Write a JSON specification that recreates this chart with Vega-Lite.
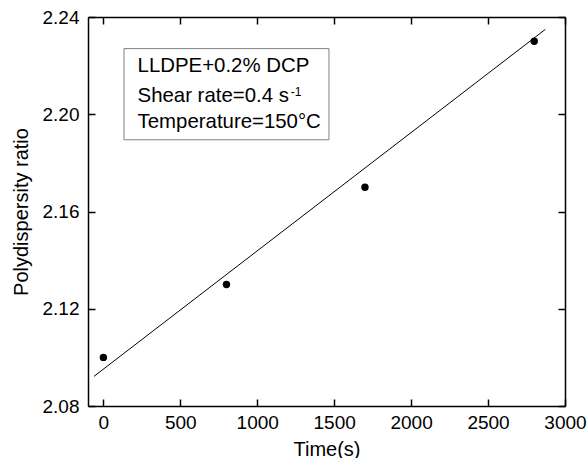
{
  "$schema": "https://vega.github.io/schema/vega-lite/v6.json",
  "width": 477,
  "height": 389,
  "autosize": {"type": "none"},
  "padding": {"left": 88, "top": 17, "right": 23, "bottom": 52},
  "background": "white",
  "config": {
    "view": {"stroke": null},
    "font": "Liberation Sans",
    "axis": {
      "grid": false,
      "domainColor": "black",
      "domainWidth": 1.5,
      "tickColor": "black",
      "tickWidth": 1.5,
      "tickSize": -7,
      "labelFont": "Liberation Sans",
      "labelFontSize": 19,
      "labelColor": "black",
      "titleFont": "Liberation Sans",
      "titleFontSize": 20,
      "titleFontWeight": "normal",
      "titleColor": "black"
    }
  },
  "datasets": {
    "points": [
      {"time": 0, "pdi": 2.10},
      {"time": 800, "pdi": 2.13},
      {"time": 1700, "pdi": 2.17},
      {"time": 2800, "pdi": 2.23}
    ],
    "fit": [
      {"time": -61, "pdi": 2.0922},
      {"time": 2872, "pdi": 2.2349}
    ],
    "note": [{"label": "annotation"}]
  },
  "resolve": {"axis": {"x": "independent", "y": "independent"}},
  "layer": [
    {
      "data": {"name": "points"},
      "mark": {"type": "point", "filled": true, "color": "black", "opacity": 1, "size": 55, "shape": "circle"},
      "encoding": {
        "x": {
          "field": "time", "type": "quantitative",
          "scale": {"domain": [-100, 3000], "nice": false, "zero": false},
          "axis": {"orient": "bottom", "values": [0, 500, 1000, 1500, 2000, 2500, 3000], "format": "d", "title": "Time(s)", "labelPadding": 14, "titleY": 49, "titleBaseline": "alphabetic", "labelFlush": false, "labelOverlap": false}
        },
        "y": {
          "field": "pdi", "type": "quantitative",
          "scale": {"domain": [2.08, 2.24], "nice": false, "zero": false},
          "axis": {"orient": "left", "values": [2.08, 2.12, 2.16, 2.20, 2.24], "format": ".2f", "title": "Polydispersity ratio", "labelPadding": 16, "titleX": -67, "titleBaseline": "middle", "labelFlush": false, "labelOverlap": false}
        }
      }
    },
    {
      "data": {"name": "fit"},
      "mark": {"type": "line", "color": "black", "strokeWidth": 1},
      "encoding": {
        "x": {
          "field": "time", "type": "quantitative",
          "axis": {"orient": "top", "values": [0, 500, 1000, 1500, 2000, 2500, 3000], "labels": false, "title": null}
        },
        "y": {
          "field": "pdi", "type": "quantitative",
          "axis": {"orient": "right", "values": [2.08, 2.12, 2.16, 2.20, 2.24], "labels": false, "title": null}
        }
      }
    },
    {
      "data": {"name": "note"},
      "mark": {"type": "rect", "fill": null, "stroke": "#808080", "strokeWidth": 1},
      "encoding": {
        "x": {"datum": 134, "type": "quantitative", "axis": null},
        "x2": {"datum": 1466},
        "y": {"datum": 2.227, "type": "quantitative", "axis": null},
        "y2": {"datum": 2.1895}
      }
    },
    {
      "data": {"name": "note"},
      "mark": {"type": "text", "align": "left", "baseline": "alphabetic", "fontSize": 20.4, "color": "black", "font": "Liberation Sans"},
      "encoding": {
        "x": {"datum": 222, "type": "quantitative", "axis": null},
        "y": {"datum": 2.2174, "type": "quantitative", "axis": null},
        "text": {"value": "LLDPE+0.2% DCP"}
      }
    },
    {
      "data": {"name": "note"},
      "mark": {"type": "text", "align": "left", "baseline": "alphabetic", "fontSize": 20.4, "color": "black", "font": "Liberation Sans"},
      "encoding": {
        "x": {"datum": 222, "type": "quantitative", "axis": null},
        "y": {"datum": 2.2049, "type": "quantitative", "axis": null},
        "text": {"value": "Shear rate=0.4 s"}
      }
    },
    {
      "data": {"name": "note"},
      "mark": {"type": "text", "align": "left", "baseline": "alphabetic", "fontSize": 12, "color": "black", "font": "Liberation Sans"},
      "encoding": {
        "x": {"datum": 1218, "type": "quantitative", "axis": null},
        "y": {"datum": 2.2076, "type": "quantitative", "axis": null},
        "text": {"value": "-1"}
      }
    },
    {
      "data": {"name": "note"},
      "mark": {"type": "text", "align": "left", "baseline": "alphabetic", "fontSize": 20.4, "color": "black", "font": "Liberation Sans"},
      "encoding": {
        "x": {"datum": 222, "type": "quantitative", "axis": null},
        "y": {"datum": 2.1942, "type": "quantitative", "axis": null},
        "text": {"value": "Temperature=150°C"}
      }
    }
  ]
}
